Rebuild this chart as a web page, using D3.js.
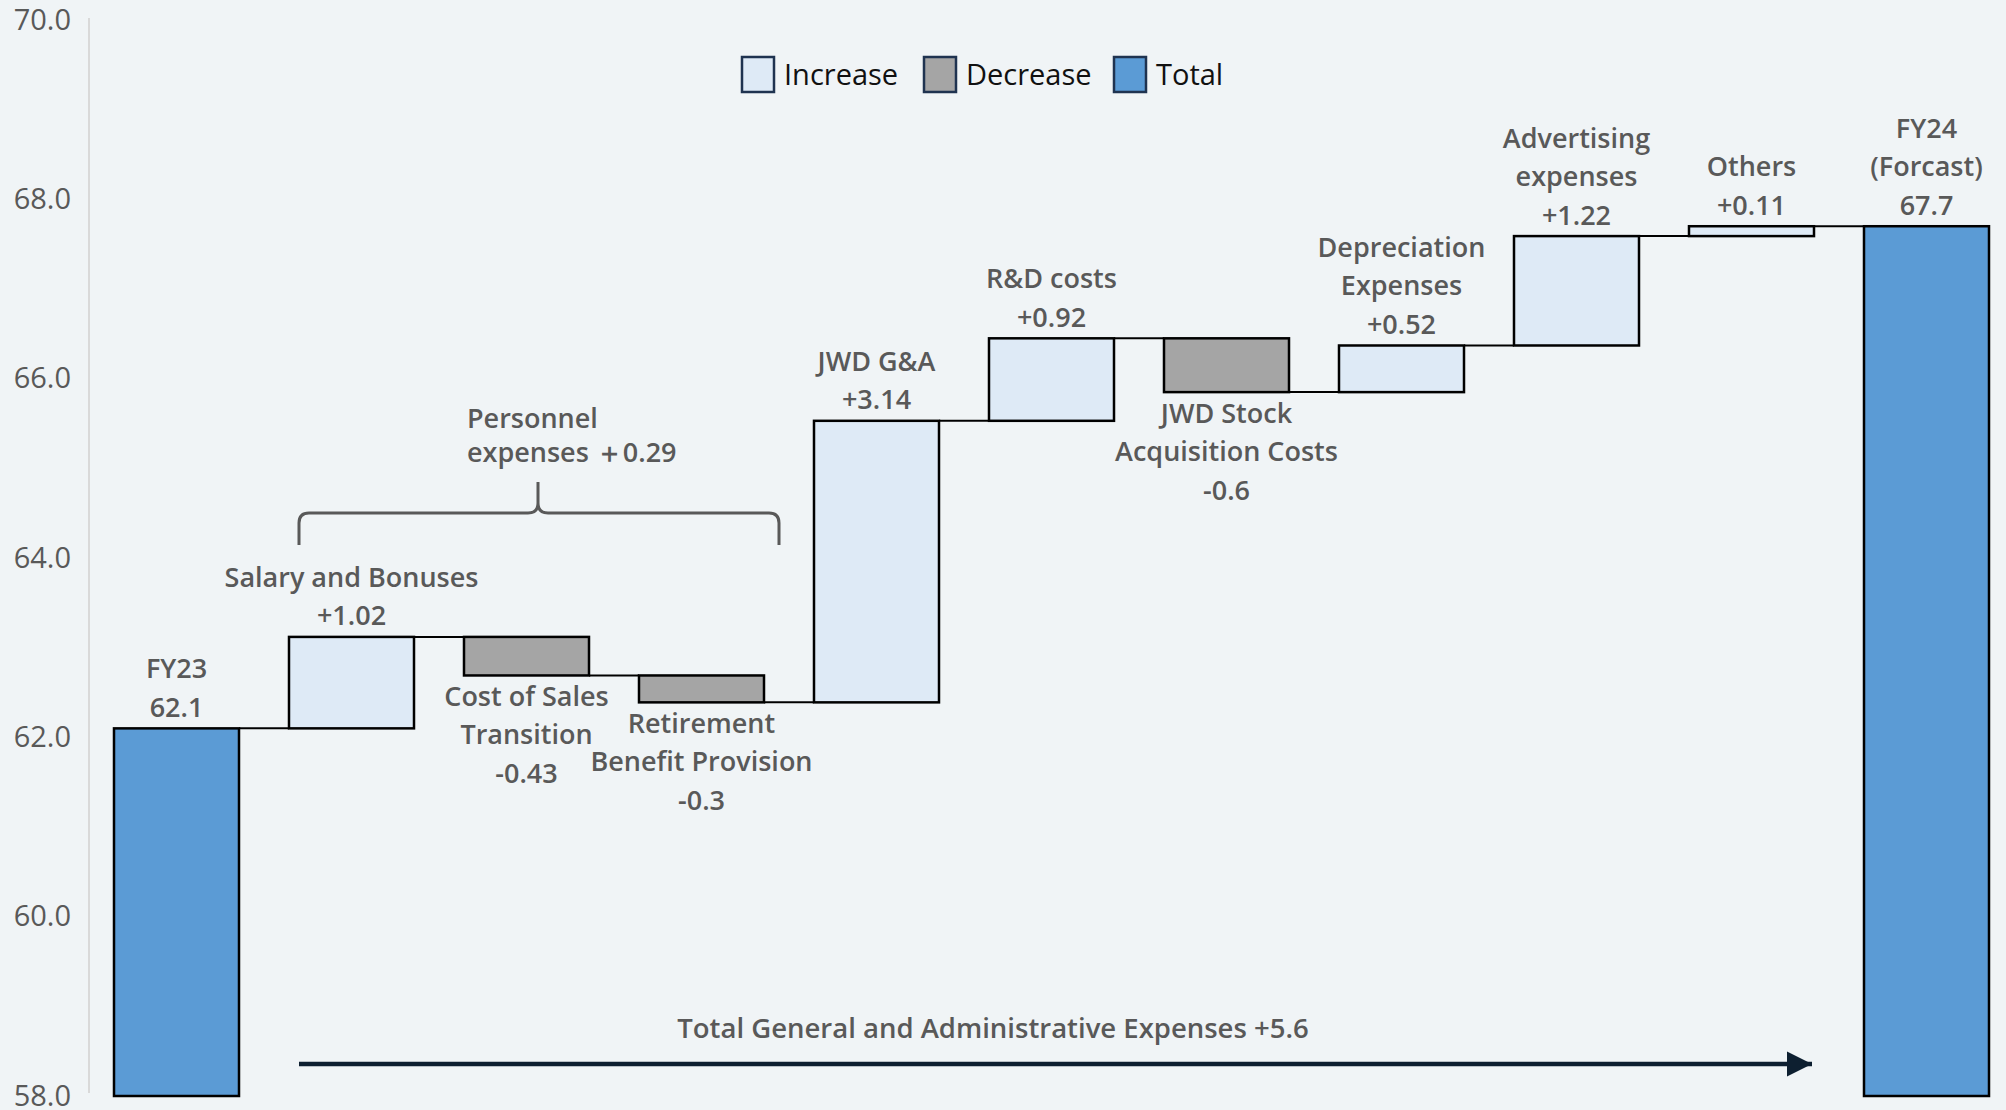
<!DOCTYPE html>
<html>
<head>
<meta charset="utf-8">
<script src="https://cdn.jsdelivr.net/npm/d3@7"></script>
<style>
  html, body { margin: 0; padding: 0; background: #f0f4f6; }
  svg { display: block; }
</style>
</head>
<body>
<svg id="chart" width="2006" height="1110"></svg>
<script>
// ---- data ----
const categories = ["FY23", "Salary and Bonuses", "Cost of Sales\nTransition", "Retirement\nBenefit Provision",
  "JWD G&A", "R&D costs", "JWD Stock\nAcquisition Costs", "Depreciation\nExpenses",
  "Advertising\nexpenses", "Others", "FY24\n(Forcast)"];
const kinds = ["total", "inc", "dec", "dec", "inc", "inc", "dec", "inc", "inc", "inc", "total"];
const values = [62.1, 1.02, -0.43, -0.3, 3.14, 0.92, -0.6, 0.52, 1.22, 0.11, 67.7];
const yTicks = [58, 60, 62, 64, 66, 68, 70];
const legendItems = ["Increase", "Decrease", "Total"];
const groupLabel = ["Personnel", "expenses \uFF0B0.29"];
const groupRange = [1, 3];
const totalLabel = "Total General and Administrative Expenses +5.6";

// ---- styles ----
const W = 2006, H = 1110;
const fills = { inc: "#deeaf6", dec: "#a5a5a5", total: "#5b9bd5" };
const textColor = "#595959";
const font = "'Open Sans', 'Noto Sans', sans-serif";

const svg = d3.select("#chart");
svg.append("rect").attr("width", W).attr("height", H).attr("fill", "#f0f4f6");

const x = d3.scaleBand().domain(categories).range([89, 2014]).paddingInner(0.2857).paddingOuter(0.142857);
const y = d3.scaleLinear().domain([58, 70]).range([1096, 20]);

// compute waterfall
let run = 0;
const bars = categories.map((c, i) => {
  let lo, hi, end;
  if (kinds[i] === "total") { lo = 58; hi = values[i]; end = values[i]; }
  else { const start = run; end = run + values[i]; lo = Math.min(start, end); hi = Math.max(start, end); }
  run = end;
  return { cat: c, kind: kinds[i], value: values[i], lo, hi, end };
});

// y axis
const yAxis = d3.axisLeft(y).tickValues(yTicks).tickFormat(d3.format(".1f")).tickSize(0).tickPadding(18);
const ga = svg.append("g").attr("transform", "translate(89,0)").call(yAxis);
ga.select(".domain").attr("stroke", "#d9d9d9").attr("stroke-width", 2).attr("d", "M0,18V1093");
ga.selectAll("text").attr("fill", textColor).attr("font-size", 29).attr("font-family", font);

// connectors
for (let i = 0; i < bars.length - 1; i++) {
  const lvl = bars[i].end;
  svg.append("line")
    .attr("x1", x(bars[i].cat) + x.bandwidth()).attr("x2", x(bars[i + 1].cat))
    .attr("y1", y(lvl)).attr("y2", y(lvl))
    .attr("stroke", "#000").attr("stroke-width", 2);
}

// bars
svg.append("g").selectAll("rect").data(bars).join("rect")
  .attr("x", d => x(d.cat)).attr("width", x.bandwidth())
  .attr("y", d => y(d.hi)).attr("height", d => y(d.lo) - y(d.hi))
  .attr("fill", d => fills[d.kind]).attr("stroke", "#000").attr("stroke-width", 2.5);

// labels
const lineH = 38.5, off = 21, fs = 27;
bars.forEach(d => {
  const fmt = d.kind === "total" ? d3.format(".1f")(d.value) : (d.value > 0 ? "+" : "") + d.value;
  const lines = d.cat.split("\n").concat([fmt]);
  const cx = x(d.cat) + x.bandwidth() / 2;
  const isTop = d.kind !== "dec";
  lines.forEach((t, j) => {
    const cy = isTop ? y(d.hi) - off - (lines.length - 1 - j) * lineH : y(d.lo) + off + j * lineH;
    svg.append("text").attr("x", cx).attr("y", cy).attr("dy", "0.35em")
      .attr("text-anchor", "middle").attr("fill", textColor)
      .attr("font-family", font).attr("font-weight", 600).attr("font-size", fs).text(t);
  });
});

// personnel bracket
const bx0 = x(categories[groupRange[0]]) + 10, bx1 = x(categories[groupRange[1]]) + x.bandwidth() + 15;
const bm = 538, by = 513, bEnd = 545, bTop = 482, r = 10;
const br = d3.path();
br.moveTo(bx0, bEnd);
br.lineTo(bx0, by + r);
br.quadraticCurveTo(bx0, by, bx0 + r, by);
br.lineTo(bm - r, by);
br.quadraticCurveTo(bm, by, bm, by - r);
br.lineTo(bm, bTop);
br.moveTo(bm, by - r);
br.quadraticCurveTo(bm, by, bm + r, by);
br.lineTo(bx1 - r, by);
br.quadraticCurveTo(bx1, by, bx1, by + r);
br.lineTo(bx1, bEnd);
svg.append("path").attr("d", br.toString()).attr("fill", "none").attr("stroke", textColor).attr("stroke-width", 3);
groupLabel.forEach((t, j) => {
  svg.append("text").attr("x", 467).attr("y", 428 + j * 34)
    .attr("fill", textColor).attr("font-family", font).attr("font-weight", 600).attr("font-size", fs).text(t);
});

// total arrow
svg.append("defs").append("marker").attr("id", "arr").attr("viewBox", "0 0 10 10")
  .attr("refX", 10).attr("refY", 5).attr("markerUnits", "userSpaceOnUse")
  .attr("markerWidth", 25).attr("markerHeight", 26).attr("orient", "auto")
  .append("path").attr("d", "M0,0L10,5L0,10Z").attr("fill", "#0d1f30");
svg.append("line").attr("x1", 299).attr("x2", 1812).attr("y1", 1064).attr("y2", 1064)
  .attr("stroke", "#0d1f30").attr("stroke-width", 4.5).attr("marker-end", "url(#arr)");
svg.append("text").attr("x", 993).attr("y", 1028).attr("dy", "0.35em").attr("text-anchor", "middle")
  .attr("fill", textColor).attr("font-family", font).attr("font-weight", 600).attr("font-size", 27.5).text(totalLabel);

// legend
const legendX = [742, 924, 1114];
const lg = svg.append("g");
legendItems.forEach((t, i) => {
  const k = ["inc", "dec", "total"][i];
  lg.append("rect").attr("x", legendX[i]).attr("y", 57).attr("width", 32).attr("height", 35)
    .attr("fill", fills[k]).attr("stroke", "#1f3350").attr("stroke-width", 2.5);
  lg.append("text").attr("x", legendX[i] + 42).attr("y", 75).attr("dy", "0.35em")
    .attr("fill", "#111").attr("font-family", font).attr("font-size", 29).text(t);
});
</script>
</body>
</html>
